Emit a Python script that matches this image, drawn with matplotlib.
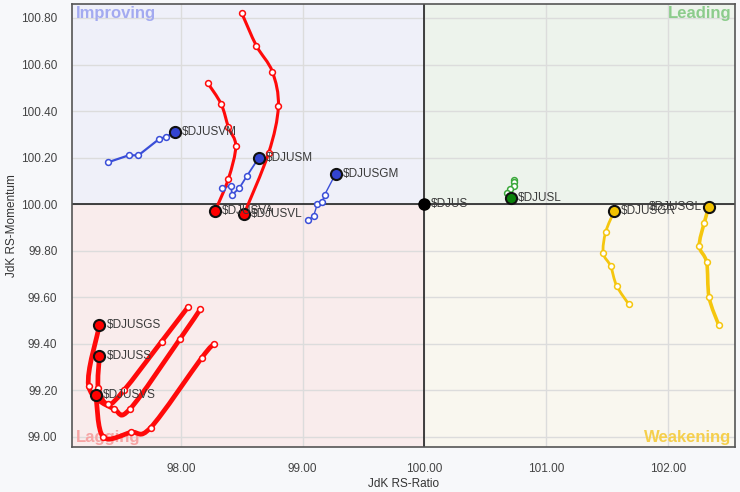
import numpy as np
import matplotlib
matplotlib.use("Agg")
import matplotlib.pyplot as plt
from matplotlib.path import Path
from matplotlib.patches import PathPatch

plt.rcParams["font.family"] = ["Liberation Sans", "DejaVu Sans"]

# ---------------------------------------------------------------------------
# Data: RS-Ratio (x) and RS-Momentum (y), oldest point first, head last
# ---------------------------------------------------------------------------
DJUSVM_X = [97.40, 97.57, 97.65, 97.82, 97.88, 97.95]
DJUSVM_Y = [100.18, 100.21, 100.21, 100.28, 100.29, 100.31]

DJUSM_X = [98.34, 98.41, 98.42, 98.48, 98.54, 98.64]
DJUSM_Y = [100.07, 100.08, 100.04, 100.07, 100.12, 100.20]

DJUSGM_X = [99.04, 99.09, 99.12, 99.16, 99.18, 99.27]
DJUSGM_Y = [99.93, 99.95, 100.00, 100.01, 100.04, 100.13]

DJUSVA_X = [98.22, 98.33, 98.39, 98.45, 98.39, 98.28]
DJUSVA_Y = [100.52, 100.43, 100.33, 100.25, 100.11, 99.97]

DJUSVL_X = [98.50, 98.62, 98.75, 98.80, 98.72, 98.52]
DJUSVL_Y = [100.82, 100.68, 100.57, 100.42, 100.22, 99.96]

DJUSGS_X = [98.16, 97.99, 97.58, 97.45, 97.24, 97.33]
DJUSGS_Y = [99.55, 99.42, 99.12, 99.12, 99.22, 99.48]

DJUSS_X = [98.06, 97.84, 97.53, 97.40, 97.32, 97.33]
DJUSS_Y = [99.56, 99.41, 99.20, 99.14, 99.21, 99.35]

DJUSVS_X = [98.27, 98.17, 97.75, 97.59, 97.36, 97.30]
DJUSVS_Y = [99.40, 99.34, 99.04, 99.02, 99.00, 99.18]

DJUSL_X = [100.74, 100.74, 100.74, 100.70, 100.68, 100.71]
DJUSL_Y = [100.105, 100.095, 100.08, 100.065, 100.047, 100.026]

DJUSGR_X = [101.68, 101.58, 101.53, 101.47, 101.49, 101.56]
DJUSGR_Y = [99.57, 99.65, 99.735, 99.79, 99.88, 99.97]

DJUSGL_X = [102.42, 102.34, 102.32, 102.26, 102.30, 102.34]
DJUSGL_Y = [99.48, 99.60, 99.75, 99.82, 99.92, 99.99]

BENCH_X = [100.0]
BENCH_Y = [100.0]

X_TICKS = [98, 99, 100, 101, 102]
Y_TICKS = [99.0, 99.2, 99.4, 99.6, 99.8, 100.0, 100.2, 100.4, 100.6, 100.8]

RED = "#ff0a0a"
BLUE = "#3a4ed8"
GREEN = "#3aa83a"
YELLOW = "#f5c60e"

# name, x, y, line colour, head colour, line width, smooth?, label side
TRACKS = [
    ("$DJUSVM", DJUSVM_X, DJUSVM_Y, BLUE, "#3344d0", 1.6, False, "right"),
    ("$DJUSM", DJUSM_X, DJUSM_Y, BLUE, "#3344d0", 1.3, False, "right"),
    ("$DJUSGM", DJUSGM_X, DJUSGM_Y, BLUE, "#3344d0", 1.0, False, "right"),
    ("$DJUSVA", DJUSVA_X, DJUSVA_Y, RED, "#ff0000", 2.2, True, "right"),
    ("$DJUSVL", DJUSVL_X, DJUSVL_Y, RED, "#ff0000", 2.2, True, "right"),
    ("$DJUSGS", DJUSGS_X, DJUSGS_Y, RED, "#ff0000", 3.4, True, "right"),
    ("$DJUSS", DJUSS_X, DJUSS_Y, RED, "#ff0000", 3.4, True, "right"),
    ("$DJUSVS", DJUSVS_X, DJUSVS_Y, RED, "#ff0000", 3.4, True, "right"),
    ("$DJUSL", DJUSL_X, DJUSL_Y, GREEN, "#0b820b", 1.0, False, "right"),
    ("$DJUSGR", DJUSGR_X, DJUSGR_Y, YELLOW, "#f2c200", 2.0, True, "right"),
    ("$DJUSGL", DJUSGL_X, DJUSGL_Y, YELLOW, "#f2c200", 2.6, True, "left"),
]

XLIM = (97.104, 102.553)
YLIM = (98.957, 100.86)


def smooth_path(xs, ys):
    """Catmull-Rom through the points, handed to matplotlib as cubic Beziers."""
    pts = np.column_stack([xs, ys])
    n = len(pts)
    verts = [pts[0]]
    codes = [Path.MOVETO]
    for i in range(n - 1):
        p0 = pts[max(i - 1, 0)]
        p1 = pts[i]
        p2 = pts[i + 1]
        p3 = pts[min(i + 2, n - 1)]
        verts += [p1 + (p2 - p0) / 6.0, p2 - (p3 - p1) / 6.0, p2]
        codes += [Path.CURVE4] * 3
    return Path(verts, codes)


fig = plt.figure(figsize=(7.4, 4.92), dpi=100, facecolor="#f7f8fa")
ax = fig.add_axes([72 / 740, 1 - 447 / 492, 663 / 740, 443 / 492])
ax.set_xlim(*XLIM)
ax.set_ylim(*YLIM)

# quadrant backgrounds
ax.fill_between([XLIM[0], 100], 100, YLIM[1], color="#eff0f9", lw=0, zorder=0)
ax.fill_between([100, XLIM[1]], 100, YLIM[1], color="#edf3ec", lw=0, zorder=0)
ax.fill_between([XLIM[0], 100], YLIM[0], 100, color="#f9ecec", lw=0, zorder=0)
ax.fill_between([100, XLIM[1]], YLIM[0], 100, color="#f9f7ef", lw=0, zorder=0)

ax.set_xticks(X_TICKS)
ax.set_xticklabels([f"{v:.2f}" for v in X_TICKS])
ax.set_yticks(Y_TICKS)
ax.set_yticklabels([f"{v:.2f}" for v in Y_TICKS])
ax.tick_params(length=0, labelsize=8.5, labelcolor="#444444")
ax.tick_params(axis="x", pad=11.5)
ax.tick_params(axis="y", pad=10.5)
ax.grid(True, color="#dcdcdc", lw=1, zorder=1)
ax.set_axisbelow(True)
for s in ax.spines.values():
    s.set_color("#555555")
    s.set_linewidth(1.2)

ax.axvline(100, color="#111111", lw=1.1, zorder=2)
ax.axhline(100, color="#111111", lw=1.1, zorder=2)

ax.set_xlabel("JdK RS-Ratio", fontsize=8.5, color="#333333", labelpad=2)
ax.set_ylabel("JdK RS-Momentum", fontsize=8.5, color="#333333", labelpad=2)

# quadrant names
qkw = dict(transform=ax.transAxes, fontsize=12, fontweight="bold")
ax.text(0.006, 0.996, "Improving", color="#a3aaf0", ha="left", va="top", **qkw)
ax.text(0.995, 0.996, "Leading", color="#8ccc8c", ha="right", va="top", **qkw)
ax.text(0.006, 0.004, "Lagging", color="#f6a4a4", ha="left", va="bottom", **qkw)
ax.text(0.995, 0.004, "Weakening", color="#f5cf4c", ha="right", va="bottom", **qkw)

for name, xs, ys, col, head, lw, smooth, side in TRACKS:
    if smooth:
        ax.add_patch(PathPatch(smooth_path(xs, ys), fill=False, edgecolor=col,
                               lw=lw, capstyle="round", joinstyle="round",
                               zorder=3))
    else:
        ax.plot(xs, ys, color=col, lw=lw, solid_capstyle="round", zorder=3)
    ax.plot(xs[:-1], ys[:-1], "o", ms=4.2, mfc="white", mec=col, mew=1.1,
            zorder=4)
    ax.plot(xs[-1], ys[-1], "o", ms=8, mfc=head, mec="#111111", mew=1.5,
            zorder=5)
    dx = 5 if side == "right" else -5
    ax.annotate(name, (xs[-1], ys[-1]), xytext=(dx, 0),
                textcoords="offset points", va="center",
                ha="left" if side == "right" else "right",
                fontsize=8.5, color="#3a3a3a", zorder=6, annotation_clip=False)

ax.plot(BENCH_X, BENCH_Y, "o", ms=8, mfc="#000000", mec="#000000", zorder=5)
ax.annotate("$DJUS", (BENCH_X[0], BENCH_Y[0]), xytext=(5, 0),
            textcoords="offset points", va="center", ha="left",
            fontsize=8.5, color="#3a3a3a", zorder=6)

fig.savefig("out.png", dpi=100, facecolor=fig.get_facecolor())
